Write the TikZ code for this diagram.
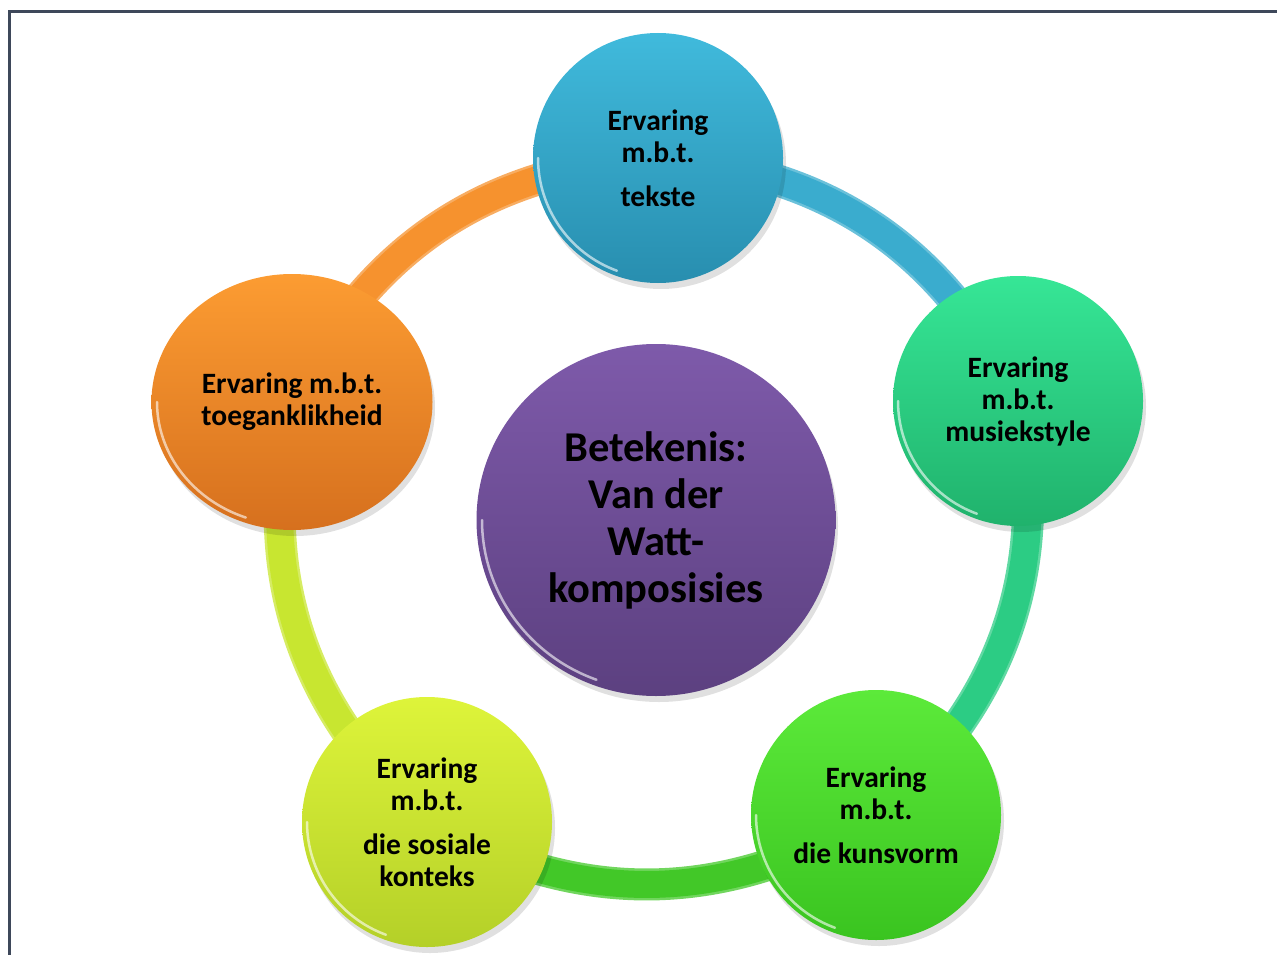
\documentclass[tikz,border=0pt]{standalone}
\usepackage{fontspec}
\setmainfont{Carlito}
\usetikzlibrary{shapes.geometric}
\pgfdeclarelayer{ringlayer}
\pgfdeclarelayer{shadowlayer}
\pgfsetlayers{ringlayer,shadowlayer,main}
\definecolor{framecol}{RGB}{62,72,90}
\definecolor{bluetop}{RGB}{64,186,220}
\definecolor{bluebot}{RGB}{40,142,175}
\definecolor{tealtop}{RGB}{54,230,150}
\definecolor{tealbot}{RGB}{32,178,108}
\definecolor{greentop}{RGB}{92,234,58}
\definecolor{greenbot}{RGB}{58,196,32}
\definecolor{yeltop}{RGB}{222,244,58}
\definecolor{yelbot}{RGB}{180,208,40}
\definecolor{orntop}{RGB}{252,156,50}
\definecolor{ornbot}{RGB}{214,112,30}
\definecolor{purtop}{RGB}{126,90,170}
\definecolor{purbot}{RGB}{92,64,128}
\definecolor{ringblue}{RGB}{58,172,206}
\definecolor{ringteal}{RGB}{44,204,132}
\definecolor{ringgreen}{RGB}{66,200,40}
\definecolor{ringyel}{RGB}{200,230,48}
\definecolor{ringorn}{RGB}{246,146,46}
\tikzset{
  bubble/.style={circle, inner sep=0pt, minimum size=250pt, align=center,
    font=\fontsize{29.5}{32}\selectfont\bfseries, text=black},
  bigbubble/.style={ellipse, inner sep=0pt, align=center,
    font=\fontsize{42.5}{47}\selectfont\bfseries, text=black},
  ringseg/.style={line width=32pt, line cap=butt},
  ringcore/.style={line width=27pt, line cap=butt},
  gloss/.style={white, opacity=0.6, line width=2.5pt, line cap=round},
  softshadow/.style={black, opacity=0.12},
}
\begin{document}
\begin{tikzpicture}[x=1pt,y=-1pt]
\useasboundingbox (0,0) rectangle (1277,955);
\draw[framecol, line width=3pt] (1277,12) -- (9.5,12) -- (9.5,955);

% circles
\node[bubble, top color=bluetop, bottom color=bluebot] (t) at (658,158)
  {Ervaring\\m.b.t.\\[12pt]tekste};
\node[bubble, top color=tealtop, bottom color=tealbot] (r) at (1018,401)
  {Ervaring\\m.b.t.\\musiekstyle};
\node[bubble, top color=greentop, bottom color=greenbot] (br) at (876,815)
  {Ervaring\\m.b.t.\\[12pt]die kunsvorm};
\node[bubble, top color=yeltop, bottom color=yelbot] (bl) at (427,822)
  {Ervaring\\m.b.t.\\[12pt]die sosiale\\konteks};
\node[bigbubble, minimum width=281pt, minimum height=256pt,
  top color=orntop, bottom color=ornbot, font=\fontsize{29.5}{32}\selectfont\bfseries] (l) at (292,402)
  {Ervaring m.b.t.\\toeganklikheid};
\node[bigbubble, minimum width=359pt, minimum height=352pt,
  top color=purtop, bottom color=purbot] (c) at (656,520)
  {Betekenis:\\Van der\\Watt-\\komposisies};

% gloss rims
\draw[gloss] (t.center) ++(180:120) arc[start angle=180, end angle=110, radius=120];
\draw[gloss] (r.center) ++(180:120) arc[start angle=180, end angle=110, radius=120];
\draw[gloss] (br.center) ++(180:120) arc[start angle=180, end angle=110, radius=120];
\draw[gloss] (bl.center) ++(180:120) arc[start angle=180, end angle=110, radius=120];
\draw[gloss] (l.center) ++(180:135) arc[start angle=180, end angle=110, x radius=135, y radius=123];
\draw[gloss] (c.center) ++(180:174) arc[start angle=180, end angle=110, x radius=174, y radius=170];

% shadows
\begin{pgfonlayer}{shadowlayer}
\fill[softshadow] ([shift={(3,6)}]t.center) circle[radius=125];
\fill[softshadow] ([shift={(3,6)}]r.center) circle[radius=125];
\fill[softshadow] ([shift={(3,6)}]br.center) circle[radius=125];
\fill[softshadow] ([shift={(3,6)}]bl.center) circle[radius=125];
\fill[softshadow] ([shift={(3,6)}]l.center) ellipse[x radius=140, y radius=128];
\fill[softshadow] ([shift={(3,6)}]c.center) ellipse[x radius=179, y radius=176];
\end{pgfonlayer}

% ring
\begin{pgfonlayer}{ringlayer}
\draw[ringseg, draw=ringblue!75!white] (t.center) to[bend left=30] (r.center);
\draw[ringcore, draw=ringblue] (t.center) to[bend left=30] (r.center);
\draw[ringseg, draw=ringteal!75!white] (r.center) to[bend left=30] (br.center);
\draw[ringcore, draw=ringteal] (r.center) to[bend left=30] (br.center);
\draw[ringseg, draw=ringgreen!75!white] (br.center) to[bend left=30] (bl.center);
\draw[ringcore, draw=ringgreen] (br.center) to[bend left=30] (bl.center);
\draw[ringseg, draw=ringyel!75!white] (bl.center) to[bend left=30] (l.center);
\draw[ringcore, draw=ringyel] (bl.center) to[bend left=30] (l.center);
\draw[ringseg, draw=ringorn!75!white] (l.center) to[bend left=30] (t.center);
\draw[ringcore, draw=ringorn] (l.center) to[bend left=30] (t.center);
\end{pgfonlayer}
\end{tikzpicture}
\end{document}
